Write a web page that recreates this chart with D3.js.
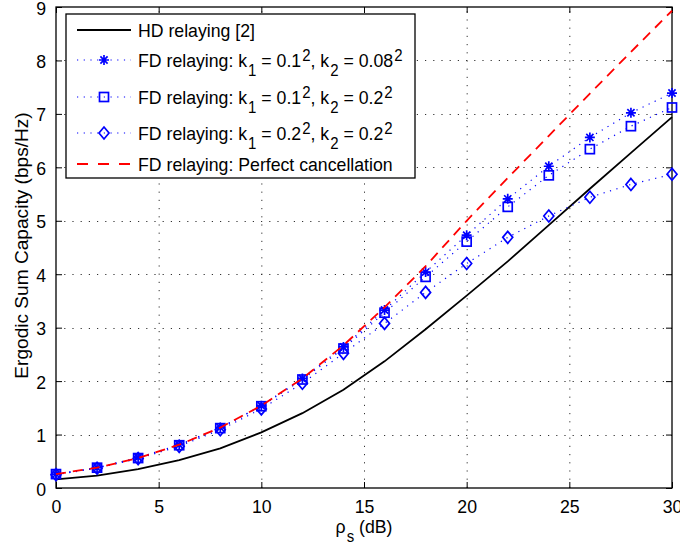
<!DOCTYPE html>
<html>
<head>
<meta charset="utf-8">
<script src="https://cdn.jsdelivr.net/npm/d3@7"></script>
<style>
html,body{margin:0;padding:0;background:#fff;}
svg{display:block;font-family:"Liberation Sans",Arial,Helvetica,sans-serif;}
</style>
</head>
<body>
<svg id="chart" width="680" height="550"></svg>
<script>
const snr = [0,2,4,6,8,10,12,14,16,18,20,22,24,26,28,30];
const hdRelaying = [0.16,0.23,0.355,0.52,0.74,1.04,1.40,1.84,2.37,2.97,3.60,4.24,4.92,5.60,6.27,6.94];
const fdStar = [0.26,0.38,0.57,0.81,1.13,1.54,2.05,2.64,3.33,4.04,4.73,5.41,6.02,6.56,7.02,7.39];
const fdSquare = [0.26,0.38,0.56,0.80,1.12,1.53,2.03,2.61,3.28,3.95,4.61,5.26,5.85,6.34,6.77,7.12];
const fdDiamond = [0.25,0.37,0.55,0.78,1.09,1.48,1.96,2.52,3.08,3.66,4.20,4.69,5.09,5.44,5.68,5.87];
const fdPerfect = [0.26,0.38,0.56,0.81,1.13,1.54,2.05,2.67,3.38,4.15,5.00,5.80,6.59,7.38,8.16,8.93];
const xTicks = [0,5,10,15,20,25,30];
const yTicks = [0,1,2,3,4,5,6,7,8,9];

const svg = d3.select("#chart");
const L = 56, R = 672, T = 7, B = 488;
const x = d3.scaleLinear().domain([0,30]).range([L,R]);
const y = d3.scaleLinear().domain([0,9]).range([B,T]);
const fs = 17.7, sfs = 15, SY = 1.08;

// grid
const grid = svg.append("g");
grid.selectAll("line.gx").data(xTicks.filter(d=>d>0&&d<30)).join("line")
  .attr("x1",d=>x(d)+0.5).attr("x2",d=>x(d)+0.5).attr("y1",B).attr("y2",T)
  .attr("stroke","#333").attr("stroke-width",1).attr("stroke-dasharray","1.2,7");
grid.selectAll("line.gy").data(yTicks.filter(d=>d>0&&d<9)).join("line")
  .attr("y1",d=>Math.round(y(d))+0.5).attr("y2",d=>Math.round(y(d))+0.5).attr("x1",L).attr("x2",R)
  .attr("stroke","#333").attr("stroke-width",1).attr("stroke-dasharray","1.2,7");

// axes
const axB = svg.append("g").attr("transform",`translate(0,${B})`)
  .call(d3.axisBottom(x).tickValues(xTicks).tickSize(-6).tickFormat(d3.format("d")));
const axT = svg.append("g").attr("transform",`translate(0,${T})`)
  .call(d3.axisTop(x).tickValues(xTicks).tickSize(-6).tickFormat(""));
const axL = svg.append("g").attr("transform",`translate(${L},0)`)
  .call(d3.axisLeft(y).tickValues(yTicks).tickSize(-6).tickFormat(d3.format("d")));
const axR = svg.append("g").attr("transform",`translate(${R},0)`)
  .call(d3.axisRight(y).tickValues(yTicks).tickSize(-6).tickFormat(""));
[axB,axT,axL,axR].forEach(a=>{
  a.select(".domain").remove();
  a.selectAll("line").attr("stroke","#000");
  a.selectAll("text").attr("font-size",fs).attr("fill","#000")
    .attr("font-family","'Liberation Sans',Arial,sans-serif");
});
axB.selectAll("text").attr("x",0).attr("y",0).attr("dy",0).attr("text-anchor","middle")
  .attr("transform",`translate(0,25) scale(1,${SY})`);
axL.selectAll("text").attr("x",0).attr("y",0).attr("dy",0).attr("text-anchor","end")
  .attr("transform",`translate(-10,7) scale(1,${SY})`);
svg.append("rect").attr("x",L).attr("y",T).attr("width",R-L).attr("height",B-T)
  .attr("fill","none").attr("stroke","#000").attr("stroke-width",1.3);

const line = arr => d3.line().x((d,i)=>x(snr[i])).y(d=>y(d))(arr);

// series
svg.append("path").attr("d",line(hdRelaying)).attr("fill","none").attr("stroke","#000").attr("stroke-width",1.8);

const blueSeries = [
  {vals:fdStar, m:"star"},
  {vals:fdSquare, m:"square"},
  {vals:fdDiamond, m:"diamond"}
];
function marker(g, type, cx, cy){
  if(type==="star"){
    const r=5, d=3.6;
    g.append("path").attr("d",`M${cx-r},${cy}H${cx+r}M${cx},${cy-r}V${cy+r}M${cx-d},${cy-d}L${cx+d},${cy+d}M${cx-d},${cy+d}L${cx+d},${cy-d}`)
      .attr("stroke","#0000ff").attr("stroke-width",1.7).attr("fill","none");
  } else if(type==="square"){
    g.append("rect").attr("x",cx-4.5).attr("y",cy-4.5).attr("width",9).attr("height",9)
      .attr("stroke","#0000ff").attr("stroke-width",1.7).attr("fill","none");
  } else {
    g.append("path").attr("d",`M${cx},${cy-6}L${cx+5},${cy}L${cx},${cy+6}L${cx-5},${cy}Z`)
      .attr("stroke","#0000ff").attr("stroke-width",1.7).attr("fill","none");
  }
}
blueSeries.forEach(s=>{
  svg.append("path").attr("d",line(s.vals)).attr("fill","none").attr("stroke","#0000ff")
    .attr("stroke-width",1.2).attr("stroke-dasharray","1.2,5.5");
  const g = svg.append("g");
  s.vals.forEach((v,i)=>marker(g,s.m,x(snr[i]),y(v)));
});
svg.append("path").attr("d",line(fdPerfect)).attr("fill","none").attr("stroke","#ff0000")
  .attr("stroke-width",1.8).attr("stroke-dasharray","10,7");

// text helper with slight vertical stretch (matches reference aspect)
function richText(parent, px, py, parts, anchor){
  const t = parent.append("text").attr("transform",`translate(${px},${py}) scale(1,${SY})`)
    .attr("font-size",fs).attr("fill","#000").attr("text-anchor",anchor||"start");
  let shift = 0;
  parts.forEach(p=>{
    const want = p.s==="sub"?8.3:(p.s==="sup"?-5.8:0);
    const ts = t.append("tspan").text(p.t).attr("dy",want-shift);
    if(p.s) ts.attr("font-size",sfs).attr("dx",1);
    shift = want;
  });
  return t;
}

// legend
const lg = svg.append("g");
lg.append("rect").attr("x",66).attr("y",14).attr("width",349).attr("height",164)
  .attr("fill","#fff").attr("stroke","#000").attr("stroke-width",1.3);
const rowsY = [30,60,97,133,164];
const lx1 = 77, lx2 = 131, tx = 138;
const base = 7;
lg.append("line").attr("x1",lx1).attr("x2",lx2).attr("y1",rowsY[0]).attr("y2",rowsY[0]).attr("stroke","#000").attr("stroke-width",1.8);
richText(lg, tx, rowsY[0]+base, [{t:"HD relaying [2]"}]);
const legLabels = [
  [{t:"FD relaying: k"},{t:"1",s:"sub"},{t:" = 0.1"},{t:"2",s:"sup"},{t:", k"},{t:"2",s:"sub"},{t:" = 0.08"},{t:"2",s:"sup"}],
  [{t:"FD relaying: k"},{t:"1",s:"sub"},{t:" = 0.1"},{t:"2",s:"sup"},{t:", k"},{t:"2",s:"sub"},{t:" = 0.2"},{t:"2",s:"sup"}],
  [{t:"FD relaying: k"},{t:"1",s:"sub"},{t:" = 0.2"},{t:"2",s:"sup"},{t:", k"},{t:"2",s:"sub"},{t:" = 0.2"},{t:"2",s:"sup"}]
];
blueSeries.forEach((s,i)=>{
  const yy = rowsY[i+1];
  lg.append("line").attr("x1",lx1).attr("x2",lx2).attr("y1",yy).attr("y2",yy).attr("stroke","#0000ff")
    .attr("stroke-width",1.2).attr("stroke-dasharray","1.2,5.5");
  marker(lg,s.m,(lx1+lx2)/2,yy);
  richText(lg, tx, yy+base, legLabels[i]);
});
lg.append("line").attr("x1",lx1).attr("x2",lx2).attr("y1",rowsY[4]).attr("y2",rowsY[4]).attr("stroke","#ff0000")
  .attr("stroke-width",1.8).attr("stroke-dasharray","11,10");
richText(lg, tx, rowsY[4]+base, [{t:"FD relaying: Perfect cancellation"}]);

// axis titles
richText(svg, (L+R)/2, 533, [{t:"ρ"},{t:"s",s:"sub"},{t:" (dB)"}], "middle");
svg.append("text").attr("transform",`translate(27.5,${(T+B)/2-2}) rotate(-90) scale(${SY},1)`).attr("text-anchor","middle")
  .attr("font-size",fs).attr("fill","#000").text("Ergodic Sum Capacity (bps/Hz)");
</script>
</body>
</html>
